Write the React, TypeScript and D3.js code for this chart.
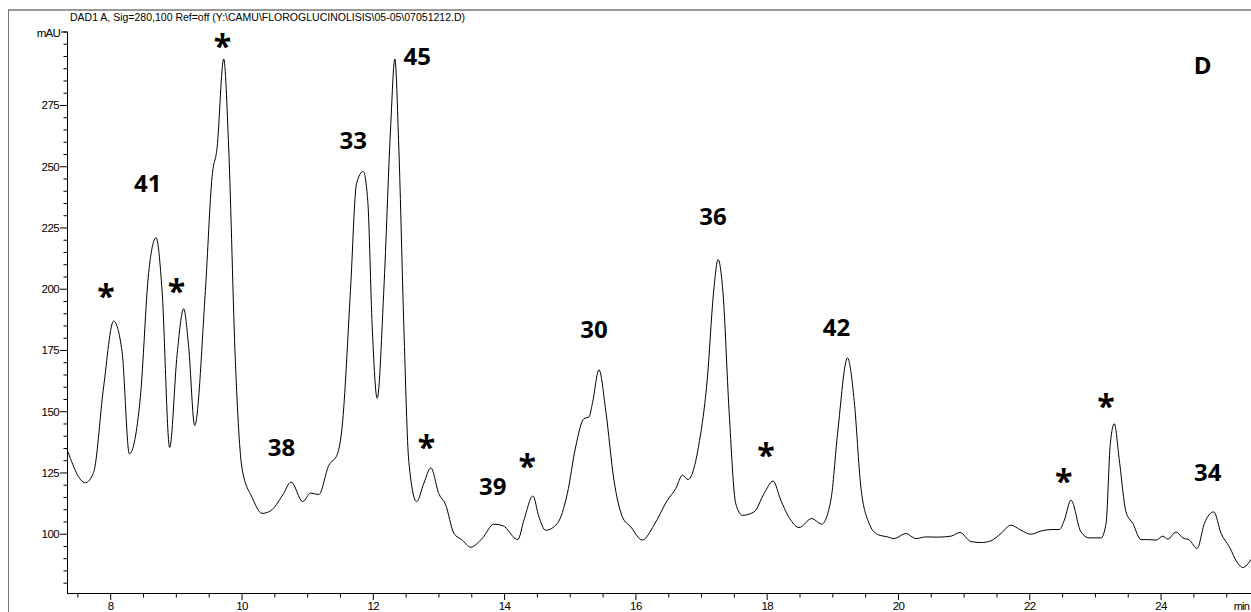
import * as d3 from "d3";

const W = 1251;
const H = 612;

// chromatogram trace: retention time (min) and absorbance (mAU)
const times = [
  7.334, 7.613, 7.739, 7.892, 8.044, 8.172, 8.284, 8.451, 8.578, 8.691,
  8.782, 8.898, 9.011, 9.111, 9.188, 9.279, 9.442, 9.544, 9.62, 9.721,
  9.797, 9.899, 10.001, 10.154, 10.306, 10.433, 10.62, 10.748, 10.925, 11.043,
  11.169, 11.322, 11.45, 11.526, 11.652, 11.744, 11.846, 11.916, 11.983, 12.059,
  12.16, 12.262, 12.328, 12.389, 12.465, 12.541, 12.659, 12.77, 12.877, 12.998,
  13.101, 13.227, 13.355, 13.482, 13.66, 13.837, 13.973, 14.201, 14.294, 14.431,
  14.523, 14.625, 14.803, 14.956, 15.082, 15.209, 15.285, 15.337, 15.438, 15.54,
  15.666, 15.794, 15.921, 16.099, 16.276, 16.48, 16.607, 16.709, 16.794, 16.962,
  17.09, 17.181, 17.252, 17.328, 17.419, 17.521, 17.623, 17.8, 17.953, 18.09,
  18.207, 18.36, 18.486, 18.68, 18.828, 18.97, 19.072, 19.224, 19.325, 19.427,
  19.553, 19.681, 19.834, 19.934, 20.113, 20.265, 20.418, 20.596, 20.799, 20.936,
  21.104, 21.256, 21.409, 21.561, 21.713, 21.866, 22.017, 22.17, 22.323, 22.45,
  22.526, 22.628, 22.78, 22.907, 23.085, 23.162, 23.227, 23.288, 23.364, 23.466,
  23.569, 23.695, 23.797, 23.924, 24.026, 24.102, 24.229, 24.331, 24.431, 24.549,
  24.66, 24.803, 24.915, 25.041, 25.169, 25.245, 25.37,
];
const mAU = [
  134.7, 121, 125.2, 160.2, 187, 174.7, 132.8, 155.8, 206.8, 221,
  199.5, 135.4, 173.3, 192, 176.2, 144.4, 199.5, 246, 257.7, 294,
  257.7, 170.4, 126.7, 115, 108.5, 109.5, 116, 121.3, 113.3, 116.8,
  116.2, 128.1, 132.5, 144.1, 199.5, 243.1, 248.1, 235.9, 184.9, 155.5,
  199.5, 265, 294, 257.7, 184.9, 129.6, 113.3, 120.8, 127.1, 116.5,
  112.1, 100.4, 97.6, 94.7, 98.3, 104.1, 103.5, 97.8, 105.7, 115.6,
  107.1, 101.6, 104.4, 116.6, 135.6, 147.2, 147.8, 153.3, 167.1, 150.6,
  122, 107.1, 103, 97.6, 103.7, 113.9, 118.6, 124.1, 122.3, 137,
  164.1, 198.1, 212.1, 198.1, 150.6, 112.5, 107.7, 109.1, 116.6, 121.7,
  113.9, 105.7, 102.7, 106.4, 104.1, 113.9, 141, 171.9, 154.6, 119.3,
  104.4, 99.9, 98.9, 98.2, 100.3, 98.2, 98.9, 98.8, 99.2, 100.7,
  97, 96.6, 97.3, 100.3, 103.7, 101.6, 100, 101.3, 101.9, 101.9,
  105.7, 113.9, 100.9, 98.5, 98.5, 104.4, 137, 145.1, 130.2, 109.1,
  104.4, 97.8, 97.8, 97.6, 99.2, 98, 100.9, 98.5, 97.6, 94.2,
  104.4, 109.1, 100.3, 94.8, 88.1, 86.4, 89.7,
];

// peak annotations (anchored in data coordinates)
const peakLabels = ["*", "41", "*", "*", "38", "33", "45", "*", "39", "*", "30", "36", "*", "42", "*", "*", "34", "D"];
const labelTimes = [7.928, 8.563, 9.0, 9.701, 10.6, 11.694, 12.669, 12.811, 13.82, 14.346, 15.361, 17.175, 17.983, 19.056, 22.517, 23.162, 24.712, 24.635];
const labelLevels = [199.5, 243.1, 201.9, 301.8, 135.5, 260.9, 294.9, 138, 119.6, 130.2, 183.4, 229.6, 134.8, 184.3, 124.3, 154.6, 125.4, 291.2];

const xMajorTicks = [8, 10, 12, 14, 16, 18, 20, 22, 24];
const yMajorTicks = [100, 125, 150, 175, 200, 225, 250, 275];

const title = "DAD1 A, Sig=280,100 Ref=off (Y:\\CAMU\\FLOROGLUCINOLISIS\\05-05\\07051212.D)";

export default function App() {
  const x = d3.scaleLinear().domain([7.334, 25.37]).range([67, 1251]);
  const y = d3.scaleLinear().domain([76, 305]).range([593, 32]);

  const points: [number, number][] = times.map((t, i) => [t, mAU[i]]);
  const line = d3
    .line<[number, number]>()
    .x((d) => x(d[0]))
    .y((d) => y(d[1]))
    .curve(d3.curveMonotoneX);

  const xMinor = d3.range(7.5, 25.4, 0.5).filter((t) => t % 2 !== 0);
  const yMinor = d3.range(80, 306, 5).filter((v) => v % 25 !== 0 || v > 275);

  const axisFont = "'Liberation Sans', Arial, sans-serif";
  const labelFont = "'Open Sans', 'Noto Sans', sans-serif";

  return (
    <svg
      width={W}
      height={H}
      style={{ position: "absolute", left: 0, top: 0, background: "#fff" }}
    >
      {/* outer frame */}
      <line x1={8} x2={W} y1={10} y2={10} stroke="#333" strokeWidth={1} />
      <line x1={8.5} x2={8.5} y1={10} y2={H} stroke="#777" strokeWidth={1} />

      <text
        x={70}
        y={21}
        fontSize={11.5}
        fontFamily={axisFont}
        textLength={395}
        lengthAdjust="spacingAndGlyphs"
        fill="#000"
      >
        {title}
      </text>

      {/* y axis */}
      <line x1={67.5} x2={67.5} y1={32} y2={593} stroke="#000" />
      {yMinor.map((v) => (
        <line key={"ym" + v} x1={63.5} x2={67.5} y1={y(v)} y2={y(v)} stroke="#000" />
      ))}
      {yMajorTicks.map((v) => (
        <g key={"y" + v}>
          <line x1={60} x2={67.5} y1={y(v)} y2={y(v)} stroke="#000" />
          <text
            x={59}
            y={y(v) + 4}
            fontSize={11.5}
            fontFamily={axisFont}
            textAnchor="end"
            letterSpacing={-0.6}
            fill="#000"
          >
            {v}
          </text>
        </g>
      ))}
      <line x1={61} x2={67.5} y1={y(305)} y2={y(305)} stroke="#000" />
      <text
        x={60}
        y={y(305) + 5}
        fontSize={11.5}
        fontFamily={axisFont}
        textAnchor="end"
        letterSpacing={-0.8}
        fill="#000"
      >
        mAU
      </text>

      {/* x axis */}
      <line x1={67} x2={W} y1={593.5} y2={593.5} stroke="#000" />
      {xMinor.map((t) => (
        <line key={"xm" + t} x1={x(t)} x2={x(t)} y1={593.5} y2={597.5} stroke="#000" />
      ))}
      {xMajorTicks.map((t) => (
        <g key={"x" + t}>
          <line x1={x(t)} x2={x(t)} y1={593.5} y2={600} stroke="#000" />
          <text
            x={x(t)}
            y={610}
            fontSize={11.5}
            fontFamily={axisFont}
            textAnchor="middle"
            letterSpacing={-0.6}
            fill="#000"
          >
            {t}
          </text>
        </g>
      ))}
      <text
        x={1249}
        y={610}
        fontSize={11}
        fontFamily={axisFont}
        textAnchor="end"
        letterSpacing={-0.8}
        fill="#000"
      >
        min
      </text>

      {/* trace */}
      <path d={line(points) ?? ""} fill="none" stroke="#000" strokeWidth={1} />

      {/* peak labels */}
      {peakLabels.map((lab, i) => {
        const cx = x(labelTimes[i]);
        const cy = y(labelLevels[i]);
        const star = lab === "*";
        return (
          <text
            key={"l" + i}
            x={cx}
            y={star ? cy + 18 : cy + 8.6}
            fontSize={star ? 32 : 24}
            fontWeight={700}
            fontFamily={labelFont}
            textAnchor="middle"
            fill="#000"
          >
            {lab}
          </text>
        );
      })}
    </svg>
  );
}
